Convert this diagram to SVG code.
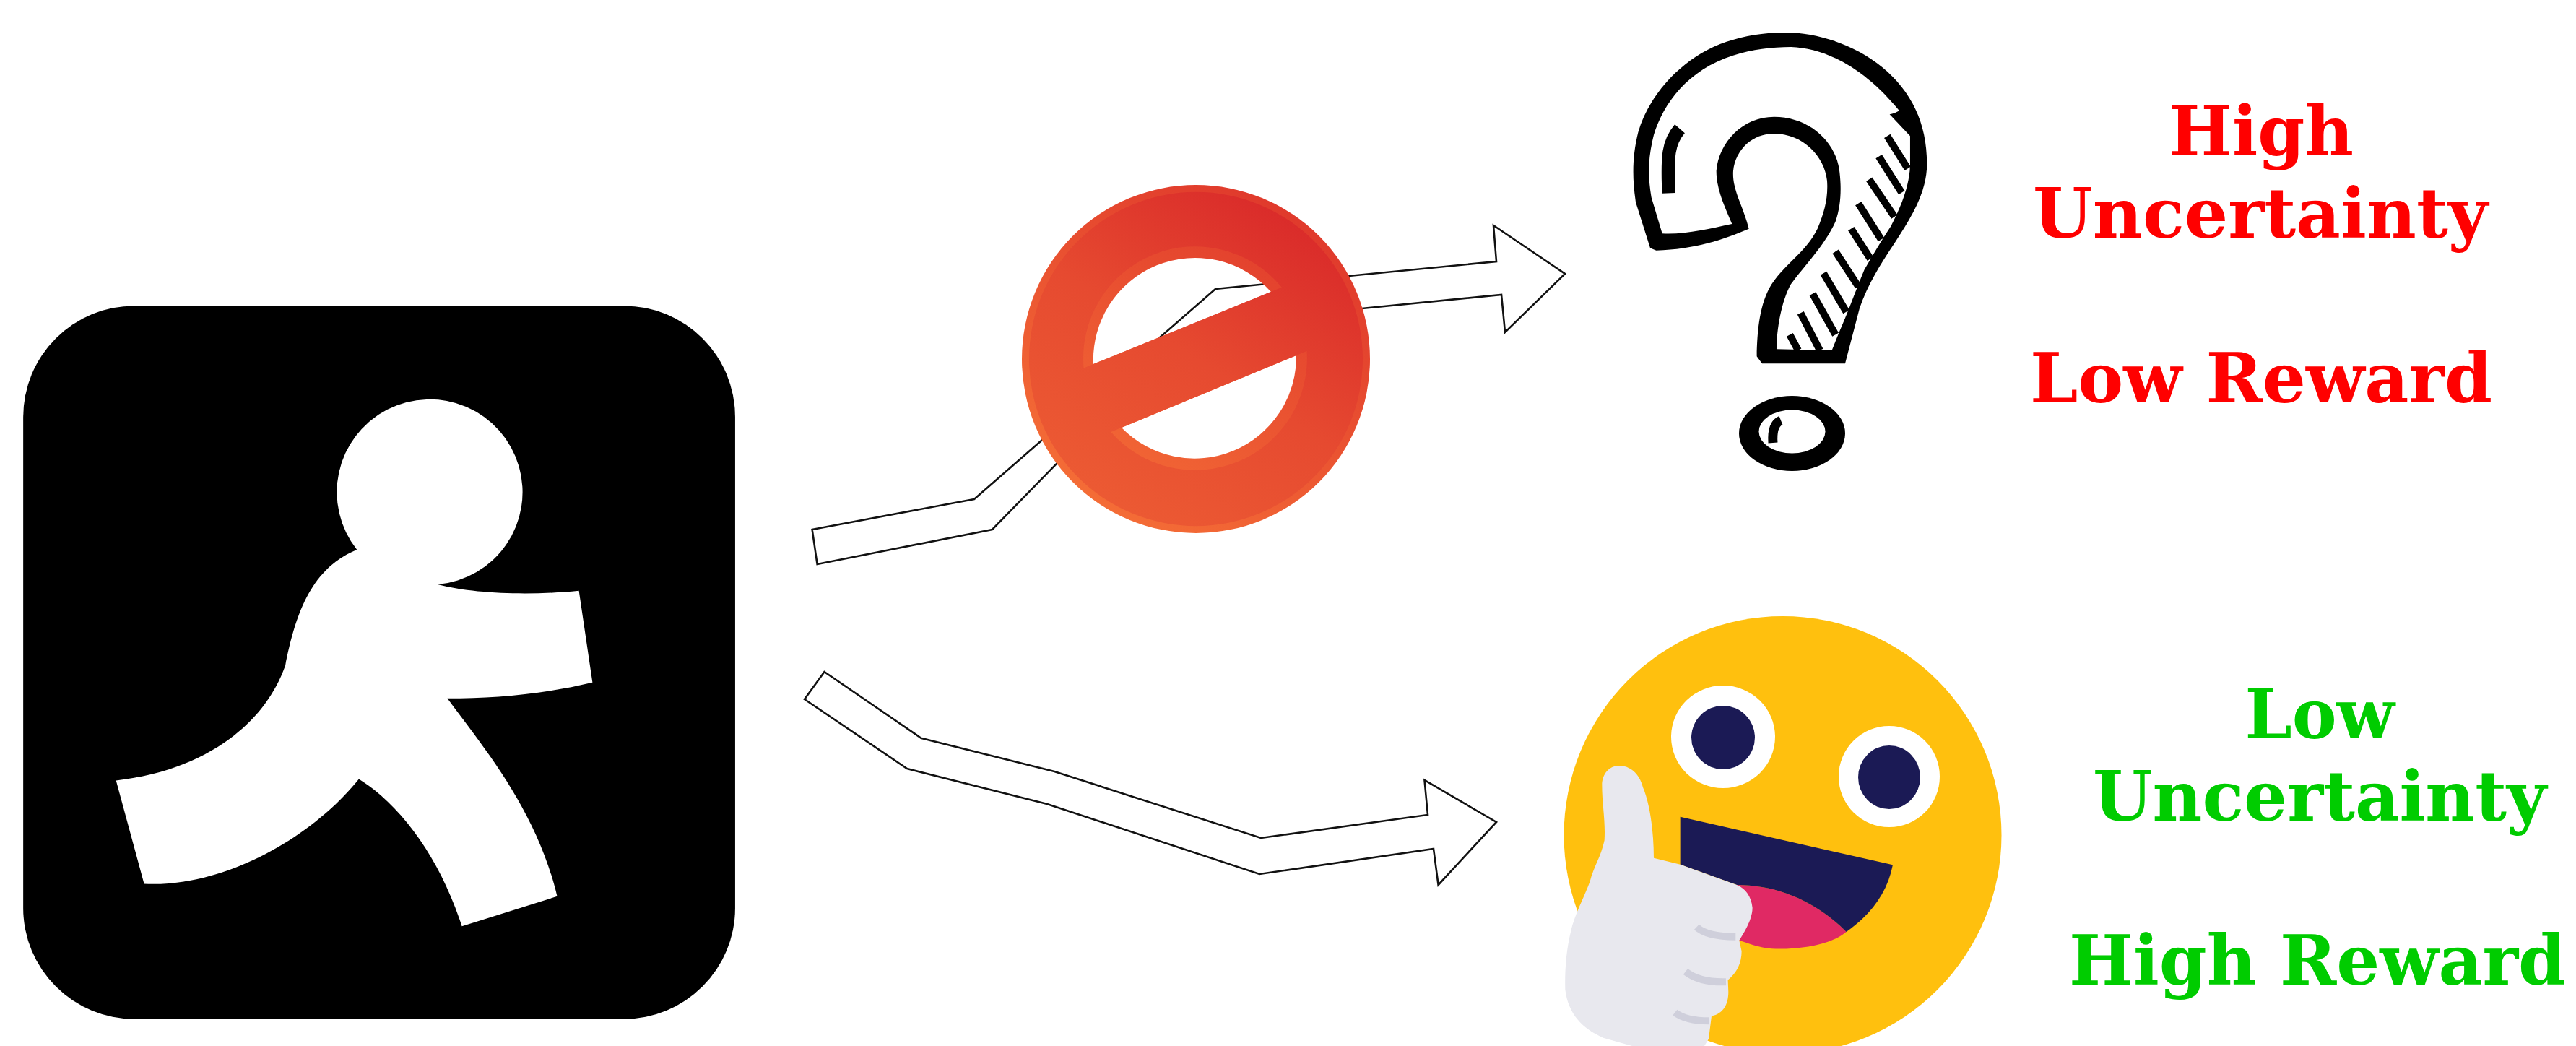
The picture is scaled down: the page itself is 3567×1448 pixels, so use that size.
<svg xmlns="http://www.w3.org/2000/svg" width="3567" height="1448" viewBox="0 0 3567 1448">
<style>
.arrow{fill:none;stroke:#111;stroke-width:2.6;stroke-linejoin:miter}
.lbl{font-family:"DejaVu Serif",serif;font-weight:bold;font-size:96px;text-anchor:middle}
.red{fill:#ff0000}.green{fill:#00cc00}
.hatch{stroke:#000;stroke-width:30;fill:none}
.crease{stroke:#cfcfdb;stroke-width:30;fill:none}
</style>
<defs>
<linearGradient id="ringLight" gradientUnits="userSpaceOnUse" x1="1530" y1="700" x2="1790" y2="300"><stop offset="0" stop-color="#f46c36"/><stop offset="1" stop-color="#e03a2c"/></linearGradient>
<linearGradient id="ringBase" gradientUnits="userSpaceOnUse" x1="1530" y1="700" x2="1790" y2="300"><stop offset="0" stop-color="#ec5a33"/><stop offset=".5" stop-color="#e64a30"/><stop offset="1" stop-color="#da2b2a"/></linearGradient>
</defs>
<rect width="3567" height="1448" fill="#ffffff"/>
<g id="connectors">
<path class="arrow" d="M1124.6,733 L1349,691 L1683,400 L2072,362 L2068,312 L2167,379 L2084,460 L2079,408 L1886,427 L1591,511 L1374,733 L1131.6,781 Z"/>
<path class="arrow" d="M1141.5,930 L1275.4,1021.7 L1460,1068 L1746,1160 L1977,1128 L1972.5,1080 L2072,1138 L1991.6,1225 L1985,1175 L1744,1210 L1450,1113 L1256,1064 L1114,968 Z"/>
</g>
<g id="runner" transform="translate(0,400) scale(.6697,.6684)">
<rect x="48" y="35" width="1472" height="1477" rx="230" ry="230" fill="#000"/>
<path fill="#fff" d="M240,1018 C400,1000 540,920 590,780 C610,680 640,580 738,540 A192,192 0 1 1 905,612 C980,632 1100,635 1197,625 L1225,815 C1120,840 1020,848 925,848 C1000,950 1110,1080 1152,1258 L955,1320 C910,1180 830,1070 742,1015 C650,1130 470,1240 298,1232 Z"/>
</g>
<g id="no-sign">
<path fill="url(#ringLight)" fill-rule="evenodd" d="M1415,497 A241,241 0 1 1 1897,497 A241,241 0 1 1 1415,497 Z M1514,504 A141,141 0 0 1 1760,404 Z M1553,592 A141,141 0 0 0 1795,492 Z"/>
<path fill="url(#ringBase)" fill-rule="evenodd" d="M1425,497 A231,231 0 1 1 1887,497 A231,231 0 1 1 1425,497 Z M1500.6,509.4 A155,155 0 0 1 1774.8,397.8 Z M1538.3,598.1 A155,155 0 0 0 1809.5,485.9 Z"/>
</g>
<g id="question-mark">
<g transform="translate(2240,30) scale(.3333)">
<path fill="#000" d="M135,940 L75,750 C60,650 60,560 85,460 C130,300 280,130 480,75 C560,50 640,45 700,45 C820,45 980,90 1100,190 C1220,290 1285,420 1285,590 C1285,700 1230,800 1150,920 C1090,1010 1040,1090 1005,1190 L945,1420 L600,1420 L578,1390 C580,1280 590,1170 640,1090 C700,1000 780,960 830,860 C860,790 875,730 870,660 C860,560 770,465 650,465 C560,465 490,530 480,620 C475,700 520,760 545,860 C440,905 320,945 160,950 Z"/>
<path fill="#fff" d="M185,880 L140,730 C125,640 125,570 150,470 C190,340 290,200 480,140 C560,115 640,105 720,105 C880,110 1040,210 1170,370 L1140,385 L1215,470 L1215,600 C1210,700 1165,790 1135,850 C1095,910 1060,970 1025,1030 C995,1100 960,1200 920,1290 L890,1365 L660,1360 C660,1280 680,1160 720,1090 C770,1020 860,930 905,830 C930,760 930,680 920,610 C900,490 790,395 650,395 C520,395 420,500 410,620 C410,700 450,780 475,840 C380,860 280,885 185,880 Z"/>
<path class="hatch" d="M1120,475L1205,610M1085,560L1180,710M1045,655L1150,810M1000,755L1095,905M970,860L1050,985M905,955L1000,1100M855,1045L950,1205M810,1130L905,1300M760,1210L840,1365M715,1300L750,1365"/>
<path fill="#000" d="M1130,385 L1185,372 L1240,470 L1215,475 Z"/>
<path fill="none" stroke="#000" stroke-width="55" d="M258,445 C210,500 205,560 212,712"/>
</g>
<ellipse cx="2481.5" cy="600" rx="73.5" ry="52" fill="#000"/>
<ellipse cx="2481.5" cy="597.5" rx="46" ry="30" fill="#fff"/>
<path fill="none" stroke="#000" stroke-width="13" d="M2466,582 C2456,586 2454,598 2455,613"/>
</g>
<g id="happy-face">
<circle cx="2468.5" cy="1156" r="303" fill="#ffc00e"/>
<ellipse cx="2386" cy="1020" rx="72" ry="71" fill="#fff"/>
<ellipse cx="2386" cy="1021" rx="44" ry="44" fill="#1b1a55"/>
<ellipse cx="2616" cy="1075" rx="70" ry="70" fill="#fff"/>
<ellipse cx="2616" cy="1076" rx="43" ry="44" fill="#1b1a55"/>
<g transform="translate(2160,1040) scale(.3333)">
<path fill="#e02964" d="M735,555 C900,555 1060,620 1190,750 C1120,810 970,825 880,820 C820,815 780,795 745,785 Z"/>
<path fill="#1b1a55" d="M500,272 L1383,472 C1360,590 1290,680 1190,750 C1060,620 900,555 735,555 L500,470 Z"/>
<path fill="#e8e8ee" d="M245,60 C205,60 175,95 175,140 C175,220 190,290 185,370 C170,440 140,480 125,540 C95,620 60,680 45,750 C25,830 20,920 22,990 C35,1090 90,1150 180,1190 L300,1224 L600,1224 L618,1195 L630,1100 C680,1090 700,1050 700,1000 L698,950 C735,920 755,880 755,830 L745,785 C775,740 800,690 800,650 C795,600 770,570 735,555 L500,470 L390,443 C390,340 375,220 345,150 C330,90 290,60 245,60 Z"/>
<path class="crease" d="M568,730 C600,760 660,770 730,770"/>
<path class="crease" d="M522,915 C560,945 620,960 690,958"/>
<path class="crease" d="M478,1085 C510,1110 560,1120 620,1120"/>
</g>
</g>
<g id="label-top">
<text class="lbl red" x="3131" y="215" textLength="256" lengthAdjust="spacingAndGlyphs">High</text>
<text class="lbl red" x="3130" y="329" textLength="630" lengthAdjust="spacingAndGlyphs">Uncertainty</text>
<text class="lbl red" x="3131" y="557" textLength="640" lengthAdjust="spacingAndGlyphs">Low Reward</text>
</g>
<g id="label-bottom">
<text class="lbl green" x="3212" y="1022" textLength="207" lengthAdjust="spacingAndGlyphs">Low</text>
<text class="lbl green" x="3212" y="1136" textLength="628" lengthAdjust="spacingAndGlyphs">Uncertainty</text>
<text class="lbl green" x="3209" y="1363" textLength="688" lengthAdjust="spacingAndGlyphs">High Reward</text>
</g>
</svg>
